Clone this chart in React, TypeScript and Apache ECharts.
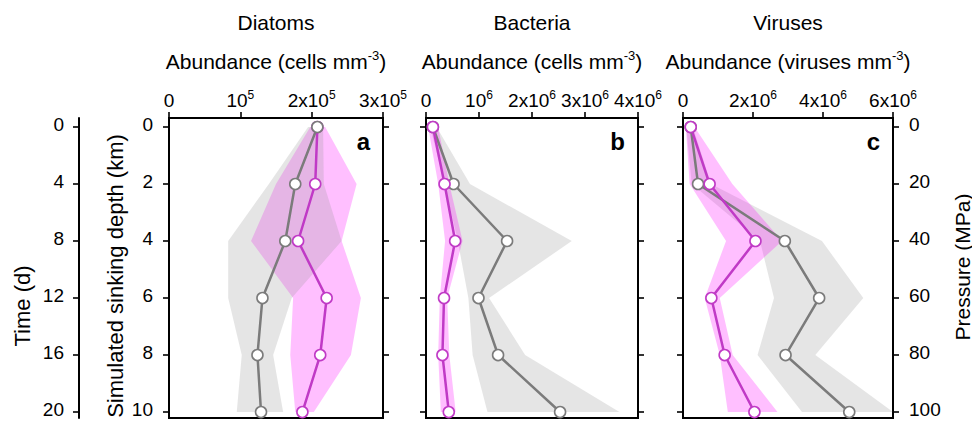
import React, { useEffect, useRef } from 'react';
import * as echarts from 'echarts';

// ---------- data ----------
const depthKm = [0, 2, 4, 6, 8, 10];
const depthTicks = [0, 2, 4, 6, 8, 10];
const timeLabels = ['0', '4', '8', '12', '16', '20'];
const pressureLabels = ['0', '20', '40', '60', '80', '100'];

// Diatoms (cells mm^-3)
const diatomsGrayMean = [2.08e5, 1.77e5, 1.63e5, 1.31e5, 1.24e5, 1.29e5];
const diatomsGrayLow = [1.95e5, 1.4e5, 0.83e5, 0.83e5, 1.02e5, 0.95e5];
const diatomsGrayHigh = [2.16e5, 2.17e5, 2.42e5, 1.72e5, 1.46e5, 1.6e5];
const diatomsPinkMean = [2.08e5, 2.05e5, 1.81e5, 2.21e5, 2.12e5, 1.87e5];
const diatomsPinkLow = [1.98e5, 1.5e5, 1.15e5, 1.74e5, 1.7e5, 1.77e5];
const diatomsPinkHigh = [2.19e5, 2.63e5, 2.42e5, 2.69e5, 2.55e5, 2.03e5];

// Bacteria (cells mm^-3)
const bacteriaGrayMean = [0.13e6, 0.52e6, 1.53e6, 0.99e6, 1.36e6, 2.53e6];
const bacteriaGrayLow = [0.08e6, 0.35e6, 0.6e6, 0.8e6, 0.88e6, 1.16e6];
const bacteriaGrayHigh = [0.2e6, 0.83e6, 2.75e6, 1.19e6, 1.87e6, 3.65e6];
const bacteriaPinkMean = [0.13e6, 0.35e6, 0.55e6, 0.34e6, 0.31e6, 0.43e6];
const bacteriaPinkLow = [0.04e6, 0.23e6, 0.36e6, 0.26e6, 0.23e6, 0.28e6];
const bacteriaPinkHigh = [0.23e6, 0.44e6, 0.69e6, 0.4e6, 0.44e6, 0.56e6];

// Viruses (viruses mm^-3)
const virusesGrayMean = [0.22e6, 0.43e6, 2.91e6, 3.89e6, 2.93e6, 4.75e6];
const virusesGrayLow = [0.09e6, 0.25e6, 2.2e6, 2.6e6, 2.13e6, 3.4e6];
const virusesGrayHigh = [0.28e6, 0.8e6, 3.97e6, 5.15e6, 3.78e6, 6.0e6];
const virusesPinkMean = [0.22e6, 0.76e6, 2.07e6, 0.81e6, 1.19e6, 2.04e6];
const virusesPinkLow = [0.08e6, 0.19e6, 1.23e6, 0.62e6, 1.05e6, 1.28e6];
const virusesPinkHigh = [0.33e6, 1.41e6, 2.83e6, 1.05e6, 1.42e6, 2.7e6];

const xMaxes = [3e5, 4e6, 6e6];
const xIntervals = [1e5, 1e6, 2e6];
const panelTitles = ['Diatoms', 'Bacteria', 'Viruses'];
const panelUnits = ['cells', 'cells', 'viruses'];
const panelLetters = ['a', 'b', 'c'];

// ---------- style ----------
const FONT = '"Liberation Sans", Arial, Helvetica, sans-serif';
const GRAY_LINE = '#7b7b7b';
const PINK_LINE = '#c03ac6';
const GRAY_BAND = 'rgba(150,150,150,0.25)';
const PINK_BAND = 'rgba(255,0,255,0.25)';
const Y_MIN = -0.316;
const Y_MAX = 10.21;
const TOP = 118;
const HEIGHT = 300;
const lefts = [169, 426, 683];
const widths = [214, 212, 210];

const supRich = {
  sup: { fontSize: 12, lineHeight: 15, verticalAlign: 'top', fontFamily: FONT, color: '#000' },
};

function fmtSci(v: number) {
  if (v === 0) return '0';
  const e = Math.floor(Math.log10(v) + 1e-9);
  const m = Math.round(v / Math.pow(10, e));
  return (m === 1 ? '' : m + 'x') + '10{sup|' + e + '}';
}

export default function App() {
  const ref = useRef<HTMLDivElement>(null);
  useEffect(() => {
    if (!ref.current) return;
    const chart = echarts.init(ref.current, undefined, { renderer: 'svg' });

    const panels = [
      {
        gm: diatomsGrayMean, gl: diatomsGrayLow, gh: diatomsGrayHigh,
        pm: diatomsPinkMean, pl: diatomsPinkLow, ph: diatomsPinkHigh, pinkFirst: true,
      },
      {
        gm: bacteriaGrayMean, gl: bacteriaGrayLow, gh: bacteriaGrayHigh,
        pm: bacteriaPinkMean, pl: bacteriaPinkLow, ph: bacteriaPinkHigh, pinkFirst: false,
      },
      {
        gm: virusesGrayMean, gl: virusesGrayLow, gh: virusesGrayHigh,
        pm: virusesPinkMean, pl: virusesPinkLow, ph: virusesPinkHigh, pinkFirst: false,
      },
    ];

    const band = (i: number, lo: number[], hi: number[], fill: string) => ({
      type: 'custom',
      xAxisIndex: i,
      yAxisIndex: i,
      silent: true,
      data: [[0, 0]],
      renderItem: (_p: any, api: any) => {
        const pts: number[][] = [];
        for (let k = 0; k < depthKm.length; k++) pts.push(api.coord([hi[k], depthKm[k]]));
        for (let k = depthKm.length - 1; k >= 0; k--) pts.push(api.coord([lo[k], depthKm[k]]));
        return { type: 'polygon', shape: { points: pts }, style: { fill, stroke: 'none' } };
      },
    });
    const line = (i: number, mean: number[], color: string) => ({
      type: 'line',
      xAxisIndex: i,
      yAxisIndex: i,
      data: depthKm.map((d, k) => [mean[k], d]),
      symbol: 'circle',
      symbolSize: 11,
      lineStyle: { color, width: 2.5 },
      itemStyle: { color: '#ffffff', borderColor: color, borderWidth: 1.6 },
      silent: true,
    });

    const series: any[] = [];
    panels.forEach((p, i) => {
      const gray = [band(i, p.gl, p.gh, GRAY_BAND), line(i, p.gm, GRAY_LINE)];
      const pink = [band(i, p.pl, p.ph, PINK_BAND), line(i, p.pm, PINK_LINE)];
      if (p.pinkFirst) series.push(...pink, ...gray);
      else series.push(...gray, ...pink);
    });

    const axisLine = { show: true, onZero: false, lineStyle: { color: '#000', width: 2 } };
    const axisTick = { show: true, inside: false, length: 6, lineStyle: { color: '#000', width: 1.6 } };
    const labelBase = { fontFamily: FONT, fontSize: 19, color: '#000' };
    // bottom-aligned with a tiny line box: labels sit ~2.5px above their tick,
    // which keeps the last row inside the page
    const yLabelBase = { ...labelBase, lineHeight: 5, verticalAlign: 'bottom' };

    const yAxes: any[] = [];
    // left axes
    for (let i = 0; i < 3; i++) {
      yAxes.push({
        gridIndex: i, type: 'value', inverse: true, min: Y_MIN, max: Y_MAX, position: 'left',
        axisLine, axisTick: { ...axisTick, customValues: depthTicks },
        axisLabel: { ...yLabelBase, show: i === 0, customValues: depthTicks, margin: 16 },
        splitLine: { show: false },
      });
    }
    // right axes
    for (let i = 0; i < 3; i++) {
      yAxes.push({
        gridIndex: i, type: 'value', inverse: true, min: Y_MIN, max: Y_MAX, position: 'right',
        axisLine, axisTick: { ...axisTick, customValues: depthTicks },
        axisLabel: {
          ...yLabelBase, show: i === 2, customValues: depthTicks, margin: 16,
          formatter: (v: number) => pressureLabels[depthTicks.indexOf(v)] ?? '',
        },
        splitLine: { show: false },
      });
    }
    // time axis
    yAxes.push({
      gridIndex: 0, type: 'value', inverse: true, min: Y_MIN, max: Y_MAX, position: 'left', offset: 90,
      axisLine, axisTick: { ...axisTick, customValues: depthTicks },
      axisLabel: {
        ...yLabelBase, customValues: depthTicks, margin: 15,
        formatter: (v: number) => timeLabels[depthTicks.indexOf(v)] ?? '',
      },
      splitLine: { show: false },
    });

    const graphic: any[] = [];
    const txt = (x: number, y: number, text: string, fontSize: number, extra: any = {}) => ({
      type: 'text', x, y, silent: true,
      rotation: extra.rotation || 0,
      style: {
        text, fontSize, fontFamily: FONT, fill: '#000', fontWeight: extra.fontWeight || 'normal',
        align: extra.align || 'center', verticalAlign: 'middle',
        textAlign: extra.align || 'center', textVerticalAlign: 'middle',
        lineHeight: extra.lineHeight,
        rich: {
          sup: { fontSize: 13, lineHeight: 14, verticalAlign: 'top', fontFamily: FONT, fill: '#000', color: '#000' },
        },
      },
    });
    for (let i = 0; i < 3; i++) {
      const cx = lefts[i] + widths[i] / 2;
      graphic.push(txt(cx, 22, panelTitles[i], 21));
      graphic.push(txt(cx, 61, 'Abundance (' + panelUnits[i] + ' mm{sup|-3})', 21, { lineHeight: 24 }));
      graphic.push(txt(lefts[i] + widths[i] - 13, 141, panelLetters[i], 24, { fontWeight: 'bold', align: 'right' }));
    }
    graphic.push(txt(22, 306, 'Time (d)', 22, { rotation: Math.PI / 2 }));
    graphic.push(txt(115, 276, 'Simulated sinking depth (km)', 22, { rotation: Math.PI / 2 }));
    graphic.push(txt(962, 267, 'Pressure (MPa)', 21, { rotation: Math.PI / 2 }));

    chart.setOption({
      animation: false,
      backgroundColor: '#ffffff',
      grid: lefts.map((l, i) => ({
        left: l, top: TOP, width: widths[i], height: HEIGHT,
        outerBoundsMode: 'none', containLabel: false,
        show: true, borderColor: '#000', borderWidth: 2, backgroundColor: 'transparent',
      })),
      xAxis: xMaxes.map((mx, i) => ({
        gridIndex: i, type: 'value', position: 'top', min: 0, max: mx, interval: xIntervals[i],
        axisLine, axisTick,
        axisLabel: {
          ...labelBase, margin: 18, verticalAlign: 'middle', lineHeight: 22,
          formatter: fmtSci, rich: supRich,
        },
        splitLine: { show: false },
      })),
      yAxis: yAxes,
      series,
      graphic,
    });
    return () => chart.dispose();
  }, []);
  return (
    <div
      ref={ref}
      style={{ position: 'fixed', left: 0, top: 0, width: 972, height: 421, background: '#fff' }}
    />
  );
}
